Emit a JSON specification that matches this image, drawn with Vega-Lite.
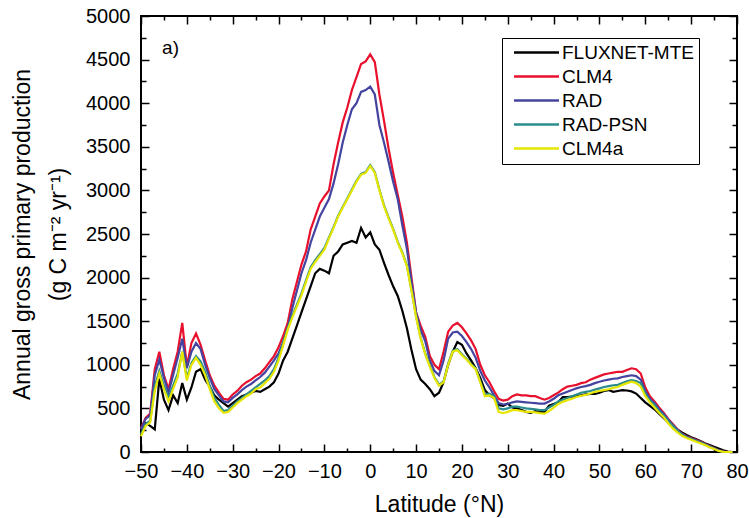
{
"$schema": "https://vega.github.io/schema/vega-lite/v6.json",
"width": 596, "height": 436,
"autosize": "none",
"padding": {"left": 141, "top": 16, "right": 12, "bottom": 66},
"background": "white",
"config": {
  "view": {"stroke": "black", "strokeWidth": 2},
  "font": "Liberation Sans",
  "axis": {"grid": false, "domain": false, "labelFont": "Liberation Sans", "labelFontSize": 20, "labelColor": "black", "titleFont": "Liberation Sans", "titleFontSize": 23, "titleFontWeight": "normal", "titleColor": "black", "tickColor": "black", "tickWidth": 1.5, "labelOverlap": false, "labelFlush": false}
},
"datasets": {"gpp": [
{"lat":-50,"F":220,"C":270,"R":260,"P":200,"A":180},
{"lat":-49,"F":330,"C":390,"R":380,"P":320,"A":300},
{"lat":-48,"F":300,"C":440,"R":420,"P":360,"A":340},
{"lat":-47,"F":260,"C":950,"R":880,"P":750,"A":700},
{"lat":-46,"F":840,"C":1150,"R":1060,"P":930,"A":900},
{"lat":-45,"F":600,"C":880,"R":850,"P":760,"A":720},
{"lat":-44,"F":480,"C":720,"R":680,"P":620,"A":580},
{"lat":-43,"F":650,"C":950,"R":880,"P":760,"A":720},
{"lat":-42,"F":560,"C":1150,"R":1080,"P":900,"A":860},
{"lat":-41,"F":790,"C":1480,"R":1300,"P":1150,"A":1150},
{"lat":-40,"F":600,"C":980,"R":960,"P":850,"A":820},
{"lat":-39,"F":740,"C":1250,"R":1150,"P":1020,"A":1000},
{"lat":-38,"F":920,"C":1360,"R":1250,"P":1100,"A":1080},
{"lat":-37,"F":950,"C":1230,"R":1180,"P":1040,"A":1000},
{"lat":-36,"F":830,"C":1050,"R":1000,"P":920,"A":880},
{"lat":-35,"F":750,"C":880,"R":850,"P":760,"A":720},
{"lat":-34,"F":650,"C":760,"R":720,"P":620,"A":580},
{"lat":-33,"F":600,"C":680,"R":650,"P":540,"A":500},
{"lat":-32,"F":560,"C":610,"R":580,"P":470,"A":450},
{"lat":-31,"F":520,"C":600,"R":570,"P":480,"A":460},
{"lat":-30,"F":560,"C":660,"R":620,"P":530,"A":510},
{"lat":-29,"F":600,"C":700,"R":660,"P":580,"A":560},
{"lat":-28,"F":640,"C":760,"R":710,"P":620,"A":600},
{"lat":-27,"F":660,"C":800,"R":750,"P":660,"A":640},
{"lat":-26,"F":680,"C":830,"R":780,"P":700,"A":670},
{"lat":-25,"F":700,"C":870,"R":820,"P":740,"A":720},
{"lat":-24,"F":690,"C":900,"R":860,"P":780,"A":740},
{"lat":-23,"F":720,"C":960,"R":910,"P":820,"A":790},
{"lat":-22,"F":750,"C":1030,"R":980,"P":870,"A":840},
{"lat":-21,"F":800,"C":1100,"R":1050,"P":950,"A":920},
{"lat":-20,"F":900,"C":1200,"R":1130,"P":1080,"A":1050},
{"lat":-19,"F":1050,"C":1330,"R":1260,"P":1250,"A":1220},
{"lat":-18,"F":1150,"C":1480,"R":1420,"P":1420,"A":1400},
{"lat":-17,"F":1300,"C":1750,"R":1650,"P":1560,"A":1540},
{"lat":-16,"F":1450,"C":1950,"R":1850,"P":1690,"A":1670},
{"lat":-15,"F":1600,"C":2150,"R":2050,"P":1820,"A":1800},
{"lat":-14,"F":1750,"C":2300,"R":2200,"P":1970,"A":1950},
{"lat":-13,"F":1900,"C":2550,"R":2400,"P":2120,"A":2100},
{"lat":-12,"F":2050,"C":2700,"R":2550,"P":2200,"A":2180},
{"lat":-11,"F":2100,"C":2850,"R":2700,"P":2270,"A":2250},
{"lat":-10,"F":2080,"C":2930,"R":2800,"P":2340,"A":2320},
{"lat":-9,"F":2050,"C":3000,"R":2900,"P":2460,"A":2450},
{"lat":-8,"F":2250,"C":3300,"R":3080,"P":2580,"A":2570},
{"lat":-7,"F":2300,"C":3550,"R":3300,"P":2710,"A":2700},
{"lat":-6,"F":2380,"C":3780,"R":3550,"P":2810,"A":2800},
{"lat":-5,"F":2400,"C":3950,"R":3750,"P":2910,"A":2900},
{"lat":-4,"F":2420,"C":4150,"R":3930,"P":3010,"A":3000},
{"lat":-3,"F":2400,"C":4300,"R":4000,"P":3110,"A":3100},
{"lat":-2,"F":2570,"C":4450,"R":4130,"P":3190,"A":3180},
{"lat":-1,"F":2460,"C":4480,"R":4150,"P":3210,"A":3200},
{"lat":0,"F":2520,"C":4560,"R":4190,"P":3290,"A":3280},
{"lat":1,"F":2380,"C":4470,"R":4100,"P":3210,"A":3200},
{"lat":2,"F":2320,"C":4100,"R":3750,"P":3010,"A":3000},
{"lat":3,"F":2170,"C":3800,"R":3550,"P":2830,"A":2820},
{"lat":4,"F":2030,"C":3480,"R":3330,"P":2690,"A":2680},
{"lat":5,"F":1900,"C":3200,"R":3100,"P":2560,"A":2550},
{"lat":6,"F":1790,"C":2950,"R":2900,"P":2410,"A":2400},
{"lat":7,"F":1620,"C":2700,"R":2600,"P":2290,"A":2280},
{"lat":8,"F":1420,"C":2400,"R":2330,"P":2140,"A":2130},
{"lat":9,"F":1170,"C":2000,"R":1950,"P":1860,"A":1850},
{"lat":10,"F":950,"C":1600,"R":1600,"P":1560,"A":1550},
{"lat":11,"F":830,"C":1450,"R":1400,"P":1310,"A":1300},
{"lat":12,"F":780,"C":1320,"R":1270,"P":1130,"A":1120},
{"lat":13,"F":720,"C":1100,"R":1050,"P":990,"A":980},
{"lat":14,"F":640,"C":1000,"R":930,"P":860,"A":850},
{"lat":15,"F":680,"C":950,"R":880,"P":770,"A":760},
{"lat":16,"F":800,"C":1150,"R":1050,"P":810,"A":800},
{"lat":17,"F":1000,"C":1380,"R":1300,"P":1010,"A":1000},
{"lat":18,"F":1150,"C":1450,"R":1370,"P":1160,"A":1150},
{"lat":19,"F":1260,"C":1480,"R":1380,"P":1180,"A":1170},
{"lat":20,"F":1230,"C":1430,"R":1330,"P":1120,"A":1110},
{"lat":21,"F":1130,"C":1360,"R":1260,"P":1070,"A":1060},
{"lat":22,"F":1050,"C":1280,"R":1180,"P":1010,"A":1000},
{"lat":23,"F":960,"C":1180,"R":1080,"P":960,"A":950},
{"lat":24,"F":850,"C":1000,"R":930,"P":810,"A":800},
{"lat":25,"F":710,"C":880,"R":820,"P":660,"A":640},
{"lat":26,"F":650,"C":800,"R":740,"P":670,"A":650},
{"lat":27,"F":620,"C":700,"R":650,"P":640,"A":620},
{"lat":28,"F":540,"C":610,"R":560,"P":500,"A":460},
{"lat":29,"F":530,"C":590,"R":545,"P":490,"A":445},
{"lat":30,"F":555,"C":600,"R":550,"P":500,"A":460},
{"lat":31,"F":510,"C":640,"R":570,"P":520,"A":480},
{"lat":32,"F":500,"C":660,"R":580,"P":520,"A":480},
{"lat":33,"F":480,"C":650,"R":575,"P":510,"A":470},
{"lat":34,"F":460,"C":650,"R":570,"P":500,"A":460},
{"lat":35,"F":450,"C":640,"R":565,"P":495,"A":460},
{"lat":36,"F":470,"C":640,"R":560,"P":490,"A":455},
{"lat":37,"F":460,"C":620,"R":555,"P":480,"A":445},
{"lat":38,"F":460,"C":600,"R":555,"P":480,"A":440},
{"lat":39,"F":530,"C":620,"R":580,"P":510,"A":470},
{"lat":40,"F":550,"C":650,"R":610,"P":540,"A":510},
{"lat":41,"F":570,"C":680,"R":650,"P":580,"A":550},
{"lat":42,"F":630,"C":720,"R":670,"P":600,"A":575},
{"lat":43,"F":630,"C":750,"R":690,"P":620,"A":595},
{"lat":44,"F":635,"C":760,"R":710,"P":640,"A":610},
{"lat":45,"F":640,"C":770,"R":730,"P":660,"A":630},
{"lat":46,"F":650,"C":790,"R":745,"P":680,"A":645},
{"lat":47,"F":660,"C":800,"R":755,"P":690,"A":655},
{"lat":48,"F":665,"C":830,"R":770,"P":700,"A":670},
{"lat":49,"F":665,"C":850,"R":790,"P":715,"A":690},
{"lat":50,"F":680,"C":870,"R":805,"P":730,"A":700},
{"lat":51,"F":700,"C":890,"R":820,"P":745,"A":710},
{"lat":52,"F":710,"C":900,"R":830,"P":755,"A":720},
{"lat":53,"F":690,"C":910,"R":840,"P":765,"A":735},
{"lat":54,"F":700,"C":920,"R":845,"P":770,"A":745},
{"lat":55,"F":710,"C":920,"R":860,"P":790,"A":770},
{"lat":56,"F":705,"C":940,"R":870,"P":810,"A":790},
{"lat":57,"F":695,"C":960,"R":880,"P":825,"A":806},
{"lat":58,"F":670,"C":950,"R":870,"P":815,"A":790},
{"lat":59,"F":620,"C":900,"R":830,"P":790,"A":750},
{"lat":60,"F":570,"C":740,"R":700,"P":670,"A":640},
{"lat":61,"F":530,"C":640,"R":610,"P":590,"A":570},
{"lat":62,"F":490,"C":580,"R":560,"P":540,"A":510},
{"lat":63,"F":440,"C":510,"R":490,"P":470,"A":450},
{"lat":64,"F":390,"C":450,"R":435,"P":420,"A":400},
{"lat":65,"F":340,"C":380,"R":370,"P":355,"A":330},
{"lat":66,"F":300,"C":320,"R":310,"P":300,"A":270},
{"lat":67,"F":260,"C":260,"R":255,"P":245,"A":225},
{"lat":68,"F":225,"C":210,"R":205,"P":200,"A":185},
{"lat":69,"F":195,"C":180,"R":175,"P":170,"A":160},
{"lat":70,"F":170,"C":160,"R":155,"P":150,"A":140},
{"lat":71,"F":150,"C":140,"R":135,"P":130,"A":120},
{"lat":72,"F":125,"C":120,"R":115,"P":110,"A":100},
{"lat":73,"F":100,"C":95,"R":90,"P":85,"A":80},
{"lat":74,"F":80,"C":70,"R":65,"P":60,"A":55},
{"lat":75,"F":60,"C":45,"R":42,"P":40,"A":35},
{"lat":76,"F":40,"C":20,"R":18,"P":15,"A":12},
{"lat":77,"F":20,"C":5,"R":4,"P":3,"A":2},
{"lat":78,"F":5,"C":0,"R":0,"P":0,"A":0},
{"lat":79,"F":0,"C":0,"R":0,"P":0,"A":0}
]},
"layer": [
  {
    "data": {"name": "gpp"},
    "transform": [
      {"fold": ["F", "C", "R", "P", "A"], "as": ["key", "gpp"]},
      {"lookup": "key", "from": {"data": {"values": [
        {"key": "F", "series": "FLUXNET-MTE"},
        {"key": "C", "series": "CLM4"},
        {"key": "R", "series": "RAD"},
        {"key": "P", "series": "RAD-PSN"},
        {"key": "A", "series": "CLM4a"}
      ]}, "key": "key", "fields": ["series"]}}
    ],
    "mark": {"type": "line", "strokeWidth": 2.2},
    "encoding": {
      "x": {"field": "lat", "type": "quantitative", "scale": {"domain": [-50, 80], "nice": false},
        "axis": {"orient": "bottom", "values": [-50,-40,-30,-20,-10,0,10,20,30,40,50,60,70,80],
          "tickSize": -8, "labelPadding": 17, "title": "Latitude (°N)", "titlePadding": 12}},
      "y": {"field": "gpp", "type": "quantitative", "scale": {"domain": [0, 5000], "nice": false},
        "axis": {"orient": "left", "values": [0,500,1000,1500,2000,2500,3000,3500,4000,4500,5000],
          "format": "d", "tickSize": -8, "labelPadding": 19,
          "title": ["Annual gross primary production", "(g C m⁻² yr⁻¹)"], "titlePadding": 15, "titleLineHeight": 36}},
      "color": {"field": "series", "type": "nominal",
        "scale": {"domain": ["FLUXNET-MTE", "CLM4", "RAD", "RAD-PSN", "CLM4a"], "range": ["#000000", "#e8102c", "#4444a0", "#2a8c8c", "#e6e600"]},
        "legend": {"orient": "none", "legendX": 361, "legendY": 22, "title": null, "strokeColor": "black", "fillColor": "white", "padding": 5, "rowPadding": 4,
          "labelFontSize": 19, "labelFont": "Liberation Sans", "labelColor": "black", "symbolType": "M-3,0H3", "symbolSize": 225, "symbolStrokeWidth": 2.5, "symbolOffset": 20, "labelOffset": 16}}
    }
  },
  {
    "data": {"name": "gpp"},
    "mark": {"type": "point", "opacity": 0},
    "encoding": {
      "x": {"field": "lat", "type": "quantitative", "scale": {"domain": [-50, 80], "nice": false},
        "axis": {"orient": "top", "values": [-50,-40,-30,-20,-10,0,10,20,30,40,50,60,70,80], "labels": false, "title": null, "tickSize": -8}},
      "y": {"field": "F", "type": "quantitative", "scale": {"domain": [0, 5000], "nice": false},
        "axis": {"orient": "right", "values": [0,500,1000,1500,2000,2500,3000,3500,4000,4500,5000], "labels": false, "title": null, "tickSize": -8}}
    }
  },
  {
    "data": {"name": "gpp"},
    "mark": {"type": "point", "opacity": 0},
    "encoding": {
      "x": {"field": "lat", "type": "quantitative", "scale": {"domain": [-50, 80], "nice": false},
        "axis": {"orient": "bottom", "values": [-45,-35,-25,-15,-5,5,15,25,35,45,55,65,75], "labels": false, "title": null, "tickSize": -4}},
      "y": {"field": "F", "type": "quantitative", "scale": {"domain": [0, 5000], "nice": false},
        "axis": {"orient": "left", "values": [250,750,1250,1750,2250,2750,3250,3750,4250,4750], "labels": false, "title": null, "tickSize": -5}}
    }
  },
  {
    "data": {"name": "gpp"},
    "mark": {"type": "point", "opacity": 0},
    "encoding": {
      "x": {"field": "lat", "type": "quantitative", "scale": {"domain": [-50, 80], "nice": false},
        "axis": {"orient": "top", "values": [-45,-35,-25,-15,-5,5,15,25,35,45,55,65,75], "labels": false, "title": null, "tickSize": -4}},
      "y": {"field": "F", "type": "quantitative", "scale": {"domain": [0, 5000], "nice": false},
        "axis": {"orient": "right", "values": [250,750,1250,1750,2250,2750,3250,3750,4250,4750], "labels": false, "title": null, "tickSize": -5}}
    }
  },
  {
    "data": {"values": [{"lat": -45.4, "v": 4634, "t": "a)"}]},
    "mark": {"type": "text", "align": "left", "baseline": "middle", "fontSize": 19, "font": "Liberation Sans", "color": "black"},
    "encoding": {
      "x": {"field": "lat", "type": "quantitative", "axis": null},
      "y": {"field": "v", "type": "quantitative", "axis": null},
      "text": {"field": "t"}
    }
  }
],
"resolve": {"axis": {"x": "independent", "y": "independent"}}
}
